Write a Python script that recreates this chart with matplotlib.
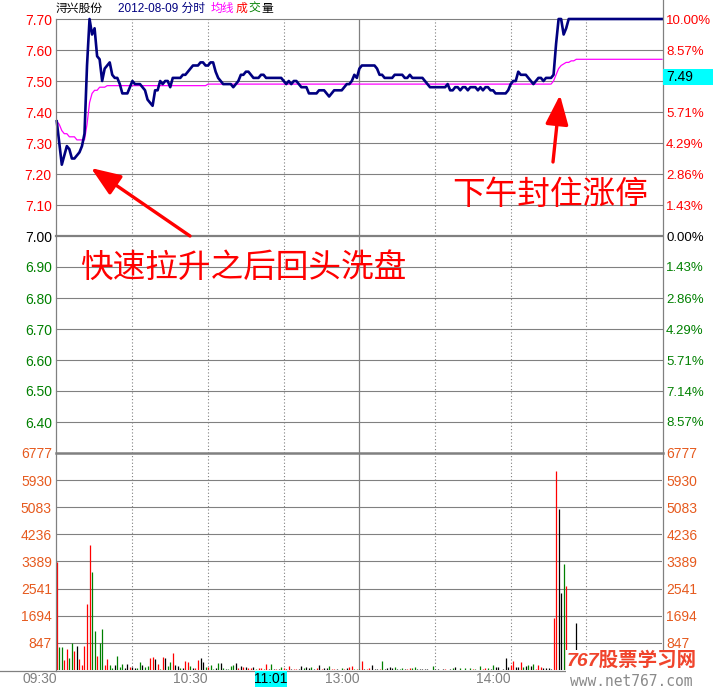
import matplotlib
matplotlib.use('Agg')
import matplotlib.pyplot as plt
import matplotlib.transforms as mtransforms
from matplotlib.lines import Line2D
from matplotlib.patches import Rectangle
import numpy as np

plt.rcParams['font.family'] = ['Liberation Sans', 'Noto Sans CJK SC']

# ---------------- data ----------------
minutes = np.arange(241)

price = [
    7.37, 7.30, 7.23, 7.26, 7.29, 7.28, 7.25, 7.25, 7.26, 7.27,
    7.29, 7.33, 7.55, 7.70, 7.65, 7.67, 7.58, 7.57, 7.50, 7.54,
    7.55, 7.56, 7.52, 7.51, 7.51, 7.49, 7.46, 7.46, 7.46, 7.48,
    7.50, 7.49, 7.49, 7.49, 7.48, 7.47, 7.44, 7.43, 7.42, 7.47,
    7.47, 7.50, 7.49, 7.50, 7.50, 7.48, 7.51, 7.51, 7.51, 7.51,
    7.52, 7.52, 7.53, 7.54, 7.55, 7.55, 7.55, 7.56, 7.56, 7.55,
    7.55, 7.56, 7.56, 7.53, 7.51, 7.50, 7.49, 7.49, 7.49, 7.49,
    7.48, 7.49, 7.50, 7.52, 7.52, 7.53, 7.53, 7.52, 7.51, 7.51,
    7.51, 7.52, 7.52, 7.51, 7.51, 7.51, 7.51, 7.51, 7.51, 7.51,
    7.50, 7.49, 7.50, 7.49, 7.50, 7.50, 7.49, 7.48, 7.48, 7.48,
    7.46, 7.46, 7.46, 7.46, 7.47, 7.47, 7.47, 7.46, 7.45, 7.46,
    7.47, 7.47, 7.47, 7.47, 7.48, 7.49, 7.49, 7.50, 7.52, 7.51,
    7.54, 7.55, 7.55, 7.55, 7.55, 7.55, 7.55, 7.54, 7.52, 7.52,
    7.51, 7.51, 7.51, 7.51, 7.52, 7.52, 7.52, 7.52, 7.51, 7.51,
    7.52, 7.51, 7.51, 7.51, 7.51, 7.51, 7.50, 7.49, 7.48, 7.48,
    7.48, 7.48, 7.48, 7.48, 7.48, 7.49, 7.47, 7.47, 7.48, 7.48,
    7.47, 7.48, 7.48, 7.47, 7.48, 7.48, 7.48, 7.47, 7.48, 7.47,
    7.48, 7.48, 7.47, 7.47, 7.46, 7.46, 7.46, 7.46, 7.46, 7.47,
    7.49, 7.50, 7.50, 7.53, 7.52, 7.52, 7.52, 7.51, 7.50, 7.49,
    7.50, 7.51, 7.51, 7.50, 7.51, 7.51, 7.51, 7.52, 7.62, 7.70,
    7.70, 7.65, 7.67, 7.70, 7.70, 7.70, 7.70, 7.70, 7.70, 7.70,
] + [7.70] * 31

avg_price = [
    7.37, 7.36, 7.34, 7.33, 7.33, 7.32, 7.32, 7.32, 7.31, 7.31,
    7.31, 7.31, 7.36, 7.43, 7.46, 7.47, 7.47, 7.48, 7.48, 7.48,
] + [7.485] * 40 + [7.49] * 137 + [
    7.50, 7.52, 7.54, 7.55, 7.555, 7.56, 7.56, 7.565, 7.565,
] + [7.57] * 35

volume = [
    3360, 710, 710, 313, 657, 386, 835, 595, 751, 344,
    157, 751, 2066, 3912, 3046, 1220, 438, 835, 1283, 157,
    344, 157, 73, 157, 438, 104, 188, 73, 188, 104,
    104, 73, 73, 250, 157, 104, 125, 386, 417, 344,
    177, 20, 417, 386, 135, 250, 543, 157, 125, 50,
    50, 282, 250, 125, 73, 73, 313, 386, 240, 90,
    104, 157, 30, 73, 230, 230, 73, 31, 20, 125,
    156, 219, 63, 136, 94, 83, 63, 73, 83, 42,
    63, 63, 30, 188, 42, 177, 31, 31, 31, 94,
    52, 31, 125, 42, 31, 31, 42, 125, 52, 94,
    63, 94, 42, 52, 156, 42, 63, 63, 115, 31,
    31, 31, 10, 63, 31, 63, 83, 115, 42, 42,
    31, 282, 31, 42, 63, 146, 42, 42, 42, 292,
    31, 73, 94, 63, 83, 42, 42, 63, 42, 42,
    73, 63, 94, 42, 42, 42, 42, 42, 10, 125,
    42, 31, 10, 31, 31, 10, 31, 63, 104, 10,
    63, 10, 52, 10, 63, 31, 42, 10, 115, 42,
    52, 52, 42, 146, 94, 83, 10, 42, 375, 94,
    167, 282, 83, 104, 250, 104, 136, 156, 125, 188,
    42, 156, 104, 63, 63, 63, 31, 1628, 6207, 5040,
    2400, 3318, 2608, 420, 310, 260, 1471, 350, 220, 300,
    260, 210, 300, 160, 210, 250, 150, 110, 200, 150,
    200, 150, 100, 150, 200, 120, 100, 150, 200, 100,
    150, 120, 100, 150, 200, 100, 150, 120, 250, 300,
    400,
]

vol_colors = (
    "rggrrggrkr" "rrrrggrggr" "rggkgggkkr" "kkggkggrrk" "rgrkggrkkg"
    "krrgkrrkkg" "rggkgkgkgg" "gkrkrkrrkg" "rrgrkgkrkg" "rkrkrrkkgk"
    "kgkrkrkkgr" "rkggrkrrgr" "grkrrkkkrg" "kkkkgkggkr" "rggkkkkkkg"
    "kkkkrkkgkk" "gkgkgrgkgr" "rgkgkkkkkk" "rrkkrgkgkg" "rrrkkkkrrk"
    "kgrkrgkrgk" "rkgrkgrkgk" "grkrgkrgkr" "kgrkrgkrkr" "r"
)

prev_close = 7.00
price_ticks = [7.70, 7.60, 7.50, 7.40, 7.30, 7.20, 7.10, 7.00,
               6.90, 6.80, 6.70, 6.60, 6.50, 6.40]
# the 7.14% label at 7.50 is hidden under the cursor value box in the original
pct_labels = ['10.00%', '8.57%', '', '5.71%', '4.29%', '2.86%', '1.43%',
              '0.00%', '1.43%', '2.86%', '4.29%', '5.71%', '7.14%', '8.57%']
vol_ticks = [6777, 5930, 5083, 4236, 3389, 2541, 1694, 847]
time_labels = ['09:30', '10:30', '13:00', '14:00']
time_pos = [0, 60, 120, 180]
dotted_grid = [30, 60, 90, 150, 180, 210]
solid_grid = [120]
cursor_time = '11:01'
cursor_value = '7.49'

# ---------------- figure ----------------
W, H = 713, 687
fig = plt.figure(figsize=(W / 100, H / 100), dpi=100, facecolor='white')

GRID = '#808080'
RED = '#FF0000'
GREEN = '#008000'
NAVY = '#000080'
VOLC = '#E65A1E'


def fline(x0, y0, x1, y1, **kw):
    fig.add_artist(Line2D([x0 / W, x1 / W], [1 - y0 / H, 1 - y1 / H],
                          transform=fig.transFigure, **kw))


ax = fig.add_axes([56 / W, 1 - 453 / H, 606 / W, 434 / H])
axv = fig.add_axes([56 / W, 1 - 670 / H, 606 / W, 217 / H], sharex=ax)

for a in (ax, axv):
    a.set_facecolor('none')
    for s in a.spines.values():
        s.set_visible(False)
    a.tick_params(axis='x', bottom=False, labelbottom=False)

ax.set_xlim(-0.3, 240)
ax.set_ylim(6.30, 7.70)
axv.set_ylim(0, 6777)

# grid lines
for t in price_ticks:
    ax.axhline(t, color=GRID, lw=1.6 if t == prev_close else 0.8, zorder=1,
               clip_on=False)
for t in vol_ticks[1:]:
    axv.axhline(t, color=GRID, lw=0.8, zorder=1)
for m in dotted_grid:
    for a in (ax, axv):
        a.axvline(m, color=GRID, lw=0.8, ls=(0, (1, 2)), zorder=1)
for m in solid_grid:
    for a in (ax, axv):
        a.axvline(m, color=GRID, lw=0.9, zorder=1)

# frame lines
fline(55.5, 19, 55.5, 670.5, color=GRID, lw=0.9)
fline(662.5, 0, 662.5, 670.5, color=GRID, lw=0.9)
fline(0, 670.5, W, 670.5, color=GRID, lw=0.9)
fline(55.5, 453, 662.5, 453, color=GRID, lw=1.8)

# price & average lines
ax.plot(minutes, avg_price, color='#FF00FF', lw=0.9, zorder=3, clip_on=False)
ax.plot(minutes, price, color=NAVY, lw=1.9, zorder=4, clip_on=False)

# volume bars
cmap = {'r': RED, 'g': GREEN, 'k': '#000000'}
axv.vlines(minutes, 0, volume, colors=[cmap[c] for c in vol_colors],
           lw=0.9, zorder=3)


def pcol(t):
    return RED if t > prev_close else ('#000000' if t == prev_close else GREEN)


ax.set_yticks(price_ticks)
ax.set_yticklabels([f'{t:.2f}' for t in price_ticks])
ax.tick_params(axis='y', length=0, pad=3, labelsize=10)
for lab, t in zip(ax.get_yticklabels(), price_ticks):
    lab.set_color(pcol(t))

axr = ax.twinx()
for s in axr.spines.values():
    s.set_visible(False)
axr.set_ylim(ax.get_ylim())
axr.set_yticks(price_ticks)
axr.set_yticklabels(pct_labels)
axr.tick_params(axis='y', length=0, pad=3, labelsize=9.5)
for lab, t in zip(axr.get_yticklabels(), price_ticks):
    lab.set_color(pcol(t))

axv.set_yticks(vol_ticks)
axv.set_yticklabels([str(v) for v in vol_ticks])
axv.tick_params(axis='y', length=0, pad=3, labelsize=10, labelcolor=VOLC)
axvr = axv.twinx()
for s in axvr.spines.values():
    s.set_visible(False)
axvr.set_ylim(axv.get_ylim())
axvr.set_yticks(vol_ticks)
axvr.set_yticklabels([str(v) for v in vol_ticks])
axvr.tick_params(axis='y', length=0, pad=3, labelsize=10, labelcolor=VOLC)

# x time labels
bt = mtransforms.blended_transform_factory(axv.transData, axv.transAxes)
for lab, m in zip(time_labels, time_pos):
    axv.text(m, -9 / 217, lab, transform=bt, ha='right', va='center',
             color=GRID, fontsize=10, clip_on=False)

# cursor labels
fig.add_artist(Rectangle((255 / W, 1 - 687 / H), 32 / W, 16 / H,
                         transform=fig.transFigure, facecolor='#00FFFF',
                         edgecolor='none', zorder=5))
fig.text(271 / W, 1 - 679 / H, cursor_time, ha='center', va='center',
         fontsize=10, color='black', zorder=6)
fig.add_artist(Rectangle((663 / W, 1 - 85 / H), 50 / W, 16 / H,
                         transform=fig.transFigure, facecolor='#00FFFF',
                         edgecolor='none', zorder=5))
fig.text(666 / W, 1 - 77 / H, cursor_value, ha='left', va='center',
         fontsize=10, color='black', zorder=6)

# title, pieces placed one after another
renderer = fig.canvas.get_renderer()
ty = 1 - 9 / H
title_parts = [('浔兴股份', 'black', 56), ('2012-08-09 分时', NAVY, 118),
               ('均线', '#FF00FF', None), ('成', RED, None),
               ('交', GREEN, None), ('量', 'black', None)]
xcur = 56
for txt, col, xstart in title_parts:
    if xstart is not None:
        xcur = xstart
    else:
        xcur += 6
    t = fig.text(xcur / W, ty, txt, ha='left', va='center', fontsize=8.5,
                 color=col)
    bb = t.get_window_extent(renderer)
    xcur = bb.x1 - 6 if txt in ('均线', '成', '交') else bb.x1
    if txt in ('均线', '成', '交'):
        xcur = bb.x1 - 5

# annotations
arrow_kw = dict(arrowstyle='-|>,head_length=0.9,head_width=0.35', color=RED,
                lw=2.4, mutation_scale=20, shrinkA=0, shrinkB=0)
ax.annotate('', xy=(91, H - 168), xycoords='figure pixels',
            xytext=(190, H - 236), textcoords='figure pixels',
            arrowprops=arrow_kw, annotation_clip=False)
ax.annotate('', xy=(560, H - 95), xycoords='figure pixels',
            xytext=(553, H - 162), textcoords='figure pixels',
            arrowprops=arrow_kw, annotation_clip=False)
fig.text(80 / W, 1 - 268 / H, '快速拉升之后回头洗盘', ha='left', va='center',
         fontsize=23.5, color=RED, family='Noto Sans CJK SC')
fig.text(452 / W, 1 - 195 / H, '下午封住涨停', ha='left', va='center',
         fontsize=23.5, color=RED, family='Noto Sans CJK SC')

# watermark
fig.add_artist(Rectangle((566 / W, 0), (W - 566) / W, (H - 650) / H,
                         transform=fig.transFigure, facecolor='white',
                         edgecolor='none', zorder=8))
fig.text(567 / W, 1 - 661 / H, '767股票学习网', ha='left', va='center',
         fontsize=14, fontweight='bold', style='italic', color='#F0442C',
         zorder=9)
fig.text(570 / W, 1 - 681 / H, 'www.net767.com', ha='left', va='center',
         fontsize=10.5, family='DejaVu Sans Mono', color='#8A8A8A', zorder=9)

fig.savefig('out.png', dpi=100, facecolor='white')
